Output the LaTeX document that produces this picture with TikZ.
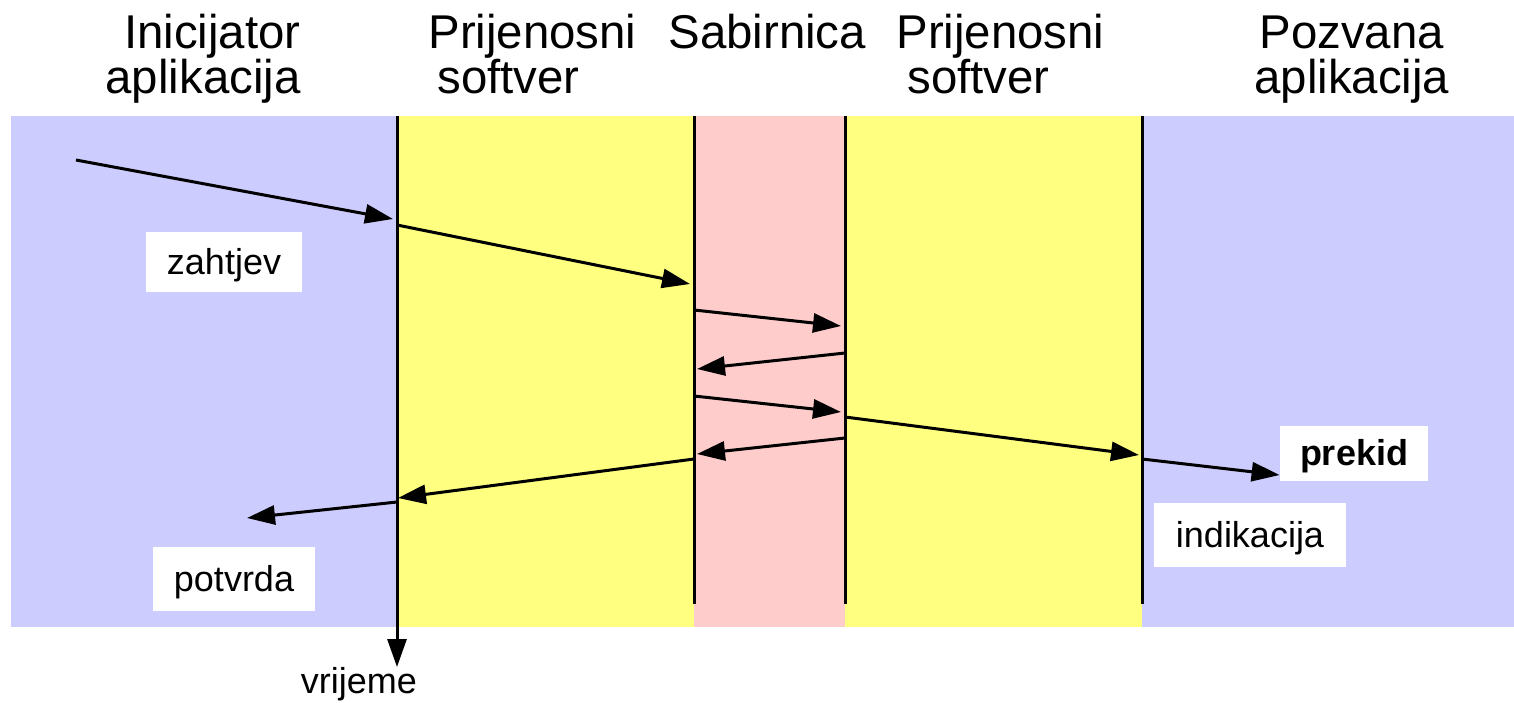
\documentclass[tikz,border=0pt]{standalone}
\usepackage{fontspec}
\setmainfont{Liberation Sans}
\usetikzlibrary{arrows.meta}
\definecolor{appblue}{HTML}{CCCCFF}
\definecolor{swyellow}{HTML}{FFFF80}
\definecolor{buspink}{HTML}{FFCCCC}
\begin{document}
\begin{tikzpicture}[x=0.5pt,y=-0.5pt,
  title/.style={font=\fontsize{23.7}{28}\selectfont, inner sep=0pt},
  lbl/.style={fill=white, font=\fontsize{18}{22}\selectfont, text height=14pt, text depth=2pt, inner sep=0pt},
  tip/.style={-{Triangle[length=14pt,width=9.5pt]}},
  msg/.style={line width=1.5pt, tip},
  lifeline/.style={line width=1.5pt}]
\useasboundingbox (0,0) rectangle (1514,702);
% bands
\fill[appblue] (11,116) rectangle (1514,627);
\fill[swyellow] (397,116) rectangle (694,627);
\fill[buspink] (694,116) rectangle (845,627);
\fill[swyellow] (845,116) rectangle (1142,627);
% titles
\node[title, anchor=base east] (t1a) at (301,48) {Inicijator};
\node[title, anchor=base east] (t1b) at (301,93) {aplikacija};
\node[title, anchor=base west] (t2a) at (428,48) {Prijenosni};
\node[title, anchor=base west] (t2b) at (437,93) {softver};
\node[title, anchor=base west] (t3a) at (668,48) {Sabirnica};
\node[title, anchor=base west] (t4a) at (896,48) {Prijenosni};
\node[title, anchor=base west] (t4b) at (907,93) {softver};
\node[title, anchor=base west] (t5a) at (1259,48) {Pozvana};
\node[title, anchor=base west] (t5b) at (1254,93) {aplikacija};
% labels
\node[lbl, minimum width=78pt, minimum height=30pt] (zahtjev) at (224,262) {zahtjev};
\node[lbl, minimum width=81pt, minimum height=32pt] (potvrda) at (234,579) {potvrda};
\node[lbl, minimum width=74pt, minimum height=27.5pt, font=\fontsize{18}{22}\selectfont\bfseries] (prekid) at (1354,453.5) {prekid};
\node[lbl, minimum width=96pt, minimum height=32pt] (indikacija) at (1250,535) {indikacija};
% lifeline coordinates
\coordinate (Ltop) at (397,116);
\coordinate (Lend) at (397,667);
\coordinate (Btop) at (694,116);
\coordinate (Bbot) at (694,604);
\coordinate (Ctop) at (845,116);
\coordinate (Cbot) at (845,604);
\coordinate (Dtop) at (1142,116);
\coordinate (Dbot) at (1142,604);
\draw[lifeline, tip] (Ltop) -- (Lend);
\draw[lifeline] (Btop) -- (Bbot);
\draw[lifeline] (Ctop) -- (Cbot);
\draw[lifeline] (Dtop) -- (Dbot);
% message coordinates
\coordinate (m1s) at (76,160);   \coordinate (m1e) at (393,219);
\coordinate (m2s) at (397,225);  \coordinate (m2e) at (690,284);
\coordinate (m3s) at (694,310);  \coordinate (m3e) at (841,326);
\coordinate (m4s) at (845,353);  \coordinate (m4e) at (697,369);
\coordinate (m5s) at (694,396);  \coordinate (m5e) at (841,412);
\coordinate (m6s) at (845,417);  \coordinate (m6e) at (1139,455);
\coordinate (m7s) at (845,438);  \coordinate (m7e) at (697,454);
\coordinate (m8s) at (1142,459);
\coordinate (m9s) at (694,459);  \coordinate (m9e) at (398,498);
\coordinate (m10s) at (397,502); \coordinate (m10e) at (247,518);
\draw[msg] (m1s) -- (m1e);
\draw[msg] (m2s) -- (m2e);
\draw[msg] (m3s) -- (m3e);
\draw[msg] (m4s) -- (m4e);
\draw[msg] (m5s) -- (m5e);
\draw[msg] (m6s) -- (m6e);
\draw[msg] (m7s) -- (m7e);
\draw[msg] (m8s) -- (prekid.west |- 0,475);
\draw[msg] (m9s) -- (m9e);
\draw[msg] (m10s) -- (m10e);
% time label
\node[font=\fontsize{18}{22}\selectfont, anchor=base, inner sep=0pt] (vrijeme) at (359,693) {vrijeme};
\end{tikzpicture}
\end{document}
